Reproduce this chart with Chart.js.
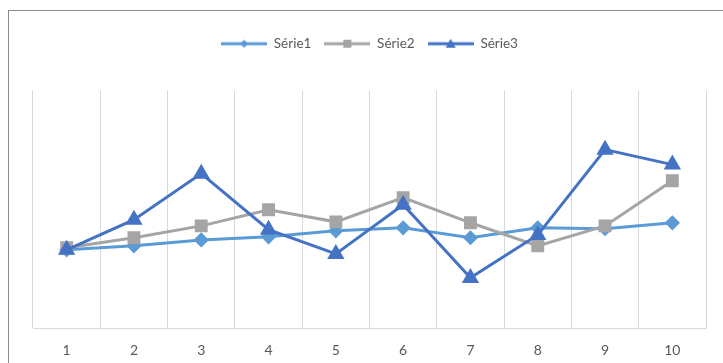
<!DOCTYPE html>
<html>
<head>
<meta charset="utf-8">
<script src="https://cdn.jsdelivr.net/npm/chart.js@4/dist/chart.umd.min.js"></script>
<style>
  body { margin: 0; background: #fff; }
  #frame {
    position: absolute; left: 8px; top: 10px;
    width: 715px; height: 353px;
    border-top: 1px solid #8a8a8a; border-left: 1px solid #8a8a8a;
  }
  canvas { display: block; }
</style>
</head>
<body>
<div id="frame"><canvas id="lineChart" width="714" height="352"></canvas></div>
<script>
// data (hidden y axis, 0..100)
const categories = ['1', '2', '3', '4', '5', '6', '7', '8', '9', '10'];
const serie1 = [32.9, 34.6, 37.1, 38.4, 40.9, 42.2, 38.0, 42.2, 41.8, 44.3];
const serie2 = [33.8, 38.0, 43.0, 49.8, 44.7, 54.9, 44.3, 34.6, 43.0, 62.0];
const serie3 = [32.9, 45.6, 65.0, 41.4, 31.2, 51.9, 21.1, 39.2, 75.1, 68.8];

// legend symbol: short line with the marker in the middle
function legendIcon(color, shape) {
  const c = document.createElement('canvas');
  c.width = 46; c.height = 12;
  const ctx = c.getContext('2d');
  ctx.strokeStyle = color; ctx.fillStyle = color; ctx.lineWidth = 3;
  ctx.beginPath(); ctx.moveTo(0, 6); ctx.lineTo(46, 6); ctx.stroke();
  ctx.beginPath();
  if (shape === 'diamond') {
    ctx.moveTo(23, 2); ctx.lineTo(27, 6); ctx.lineTo(23, 10); ctx.lineTo(19, 6);
  } else if (shape === 'square') {
    ctx.rect(19, 2, 8, 8);
  } else {
    ctx.moveTo(23, 1); ctx.lineTo(28, 10); ctx.lineTo(18, 10);
  }
  ctx.closePath(); ctx.fill();
  return c;
}

const legendMargin = {
  id: 'legendMargin',
  beforeInit(chart) {
    const fit = chart.legend.fit;
    chart.legend.fit = function () {
      fit.bind(chart.legend)();
      this.height += 30;
    };
  }
};

const canvas = document.getElementById('lineChart');
new Chart(canvas, {
  type: 'line',
  data: {
    labels: categories,
    datasets: [
      {
        label: 'Série1', data: serie1, order: 3,
        borderColor: '#5B9BD5', backgroundColor: '#5B9BD5', borderWidth: 3,
        pointStyle: 'rectRot', pointRadius: 5.5, pointHoverRadius: 5.5,
        legendIcon: legendIcon('#5B9BD5', 'diamond'),
      },
      {
        label: 'Série2', data: serie2, order: 2,
        borderColor: '#A5A5A5', backgroundColor: '#A5A5A5', borderWidth: 3,
        pointStyle: 'rect', pointRadius: 7, pointHoverRadius: 7,
        legendIcon: legendIcon('#A5A5A5', 'square'),
      },
      {
        label: 'Série3', data: serie3, order: 1,
        borderColor: '#4472C4', backgroundColor: '#4472C4', borderWidth: 3,
        pointStyle: 'triangle', pointRadius: 7, pointHoverRadius: 7,
        legendIcon: legendIcon('#4472C4', 'triangle'),
      },
    ],
  },
  options: {
    responsive: false,
    animation: false,
    layout: { padding: { left: 24, right: 17, top: 13, bottom: 0 } },
    plugins: {
      tooltip: { enabled: false },
      legend: {
        position: 'top',
        labels: {
          usePointStyle: true,
          pointStyleWidth: 46,
          padding: 13,
          color: '#595959',
          font: { family: 'Lato', size: 13.5 },
          sort: (a, b) => a.datasetIndex - b.datasetIndex,
          generateLabels(chart) {
            return chart.data.datasets.map((ds, i) => ({
              text: ds.label,
              datasetIndex: i,
              fillStyle: ds.borderColor,
              strokeStyle: ds.borderColor,
              fontColor: '#595959',
              lineWidth: 0,
              pointStyle: ds.legendIcon,
              hidden: false,
            }));
          },
        },
      },
    },
    scales: {
      x: {
        offset: true,
        grid: { offset: true, color: '#d9d9d9', drawTicks: false },
        border: { color: '#d9d9d9' },
        ticks: { padding: 14, color: '#595959', font: { family: 'Lato', size: 14 } },
        afterFit(scale) { scale.height = 35; },
      },
      y: { display: false, min: 0, max: 100 },
    },
  },
  plugins: [legendMargin],
});
</script>
</body>
</html>
